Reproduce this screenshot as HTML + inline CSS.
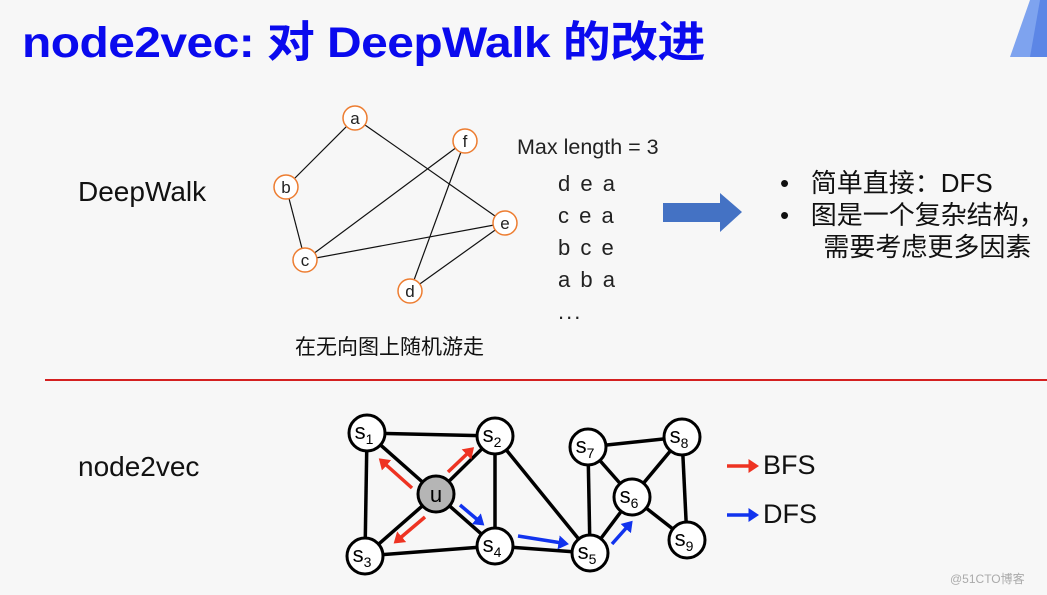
<!DOCTYPE html>
<html><head><meta charset="utf-8"><style>
body{margin:0;width:1047px;height:595px;background:#f7f7f7;overflow:hidden;position:relative;font-family:"Liberation Sans","Noto Sans CJK SC",sans-serif}
.t{position:absolute;white-space:nowrap}
</style></head><body>
<svg width="1047" height="595" style="position:absolute;left:0;top:0">
<polygon points="1030,0 1047,0 1047,57 1010,57" fill="#7ea3ef"/>
<polygon points="1040,0 1047,0 1047,57 1030,57" fill="#5c86e6"/>
<line x1="45" y1="380" x2="1047" y2="380" stroke="#d42020" stroke-width="2"/>
<g stroke="#111" stroke-width="1.2">
<line x1="355" y1="118" x2="286" y2="187"/><line x1="355" y1="118" x2="505" y2="223"/>
<line x1="286" y1="187" x2="305" y2="260"/><line x1="305" y1="260" x2="465" y2="141"/>
<line x1="305" y1="260" x2="505" y2="223"/><line x1="465" y1="141" x2="410" y2="291"/>
<line x1="505" y1="223" x2="410" y2="291"/>
</g>
<g fill="#fff" stroke="#ed7d31" stroke-width="1.5">
<circle cx="355" cy="118" r="12"/><circle cx="286" cy="187" r="12"/><circle cx="305" cy="260" r="12"/>
<circle cx="410" cy="291" r="12"/><circle cx="505" cy="223" r="12"/><circle cx="465" cy="141" r="12"/>
</g>
<g font-size="17" text-anchor="middle" fill="#222" font-family="Liberation Sans,sans-serif">
<text x="355" y="124">a</text><text x="286" y="193">b</text><text x="305" y="266">c</text>
<text x="410" y="297">d</text><text x="505" y="229">e</text><text x="465" y="147">f</text>
</g>
<polygon points="663,203 720,203 720,193 742,212 720,232 720,222 663,222" fill="#4472c4"/>
<g stroke="#000" stroke-width="3.5">
<line x1="367" y1="433" x2="495" y2="436"/><line x1="367" y1="433" x2="365" y2="556"/>
<line x1="367" y1="433" x2="436" y2="494"/><line x1="495" y1="436" x2="436" y2="494"/>
<line x1="495" y1="436" x2="495" y2="546"/><line x1="495" y1="436" x2="590" y2="553"/>
<line x1="365" y1="556" x2="436" y2="494"/><line x1="365" y1="556" x2="495" y2="546"/>
<line x1="436" y1="494" x2="495" y2="546"/><line x1="495" y1="546" x2="590" y2="553"/>
<line x1="590" y1="553" x2="588" y2="447"/><line x1="590" y1="553" x2="632" y2="497"/>
<line x1="588" y1="447" x2="682" y2="437"/><line x1="588" y1="447" x2="632" y2="497"/>
<line x1="682" y1="437" x2="632" y2="497"/><line x1="682" y1="437" x2="687" y2="540"/>
<line x1="632" y1="497" x2="687" y2="540"/>
</g>
<defs>
<marker id="r" markerWidth="4" markerHeight="4" refX="1" refY="2" orient="auto"><path d="M0,0 L3,2 L0,4 Z" fill="#ee3322"/></marker>
<marker id="b" markerWidth="4" markerHeight="4" refX="1" refY="2" orient="auto"><path d="M0,0 L3,2 L0,4 Z" fill="#1133ee"/></marker>
</defs>
<g stroke="#ee3322" stroke-width="3.5" fill="none">
<line x1="412" y1="488" x2="384" y2="463" marker-end="url(#r)"/>
<line x1="448" y1="472" x2="469" y2="452" marker-end="url(#r)"/>
<line x1="425" y1="517" x2="399" y2="539" marker-end="url(#r)"/>
</g>
<g stroke="#1133ee" stroke-width="3.5" fill="none">
<line x1="460" y1="505" x2="479" y2="521" marker-end="url(#b)"/>
<line x1="518" y1="536" x2="562" y2="543" marker-end="url(#b)"/>
<line x1="612" y1="544" x2="628" y2="526" marker-end="url(#b)"/>
<line x1="727" y1="466" x2="752" y2="466" stroke="#ee3322" marker-end="url(#r)"/>
<line x1="727" y1="515" x2="752" y2="515" marker-end="url(#b)"/>
</g>
<g fill="#fff" stroke="#000" stroke-width="3">
<circle cx="367" cy="433" r="18"/><circle cx="495" cy="436" r="18"/><circle cx="365" cy="556" r="18"/>
<circle cx="495" cy="546" r="18"/><circle cx="590" cy="553" r="18"/><circle cx="632" cy="497" r="18"/>
<circle cx="588" cy="447" r="18"/><circle cx="682" cy="437" r="18"/><circle cx="687" cy="540" r="18"/>
<circle cx="436" cy="494" r="18" fill="#b5b5b5"/>
</g>
<g font-size="22" fill="#000" font-family="Liberation Sans,sans-serif" text-anchor="middle">
<text x="364" y="439">s<tspan font-size="14" dy="5">1</tspan></text>
<text x="492" y="442">s<tspan font-size="14" dy="5">2</tspan></text>
<text x="362" y="562">s<tspan font-size="14" dy="5">3</tspan></text>
<text x="492" y="552">s<tspan font-size="14" dy="5">4</tspan></text>
<text x="587" y="559">s<tspan font-size="14" dy="5">5</tspan></text>
<text x="629" y="503">s<tspan font-size="14" dy="5">6</tspan></text>
<text x="585" y="453">s<tspan font-size="14" dy="5">7</tspan></text>
<text x="679" y="443">s<tspan font-size="14" dy="5">8</tspan></text>
<text x="684" y="546">s<tspan font-size="14" dy="5">9</tspan></text>
<text x="436" y="502">u</text>
</g>
</svg>
<div class="t" style="left:22px;top:8px;font-size:43px;font-weight:bold;color:#0a0aee;letter-spacing:-0.5px;transform:scaleX(1.115);transform-origin:0 0">node2vec: 对 DeepWalk 的改进</div>
<div class="t" style="left:78px;top:176px;font-size:28px;color:#111">DeepWalk</div>
<div class="t" style="left:78px;top:451px;font-size:28px;color:#111">node2vec</div>
<div class="t" style="left:295px;top:331px;font-size:21px;color:#111">在无向图上随机游走</div>
<div class="t" style="left:517px;top:135px;font-size:21.5px;color:#222">Max length = 3</div>
<div class="t" style="left:558px;top:168px;font-size:22px;color:#222;line-height:32px;letter-spacing:2px">d e a<br>c e a<br>b c e<br>a b a<br>...</div>
<div class="t" style="left:780px;top:167px;font-size:26px;color:#111;line-height:32px">•&nbsp;&nbsp;&nbsp;简单直接：DFS<br>•&nbsp;&nbsp;&nbsp;图是一个复杂结构，<br>&nbsp;&nbsp;&nbsp;&nbsp;&nbsp;&nbsp;需要考虑更多因素</div>
<div class="t" style="left:763px;top:450px;font-size:27px;color:#111">BFS</div>
<div class="t" style="left:763px;top:499px;font-size:27px;color:#111">DFS</div>
<div class="t" style="left:950px;top:570px;font-size:12px;color:#aaa">@51CTO博客</div>
</body></html>
